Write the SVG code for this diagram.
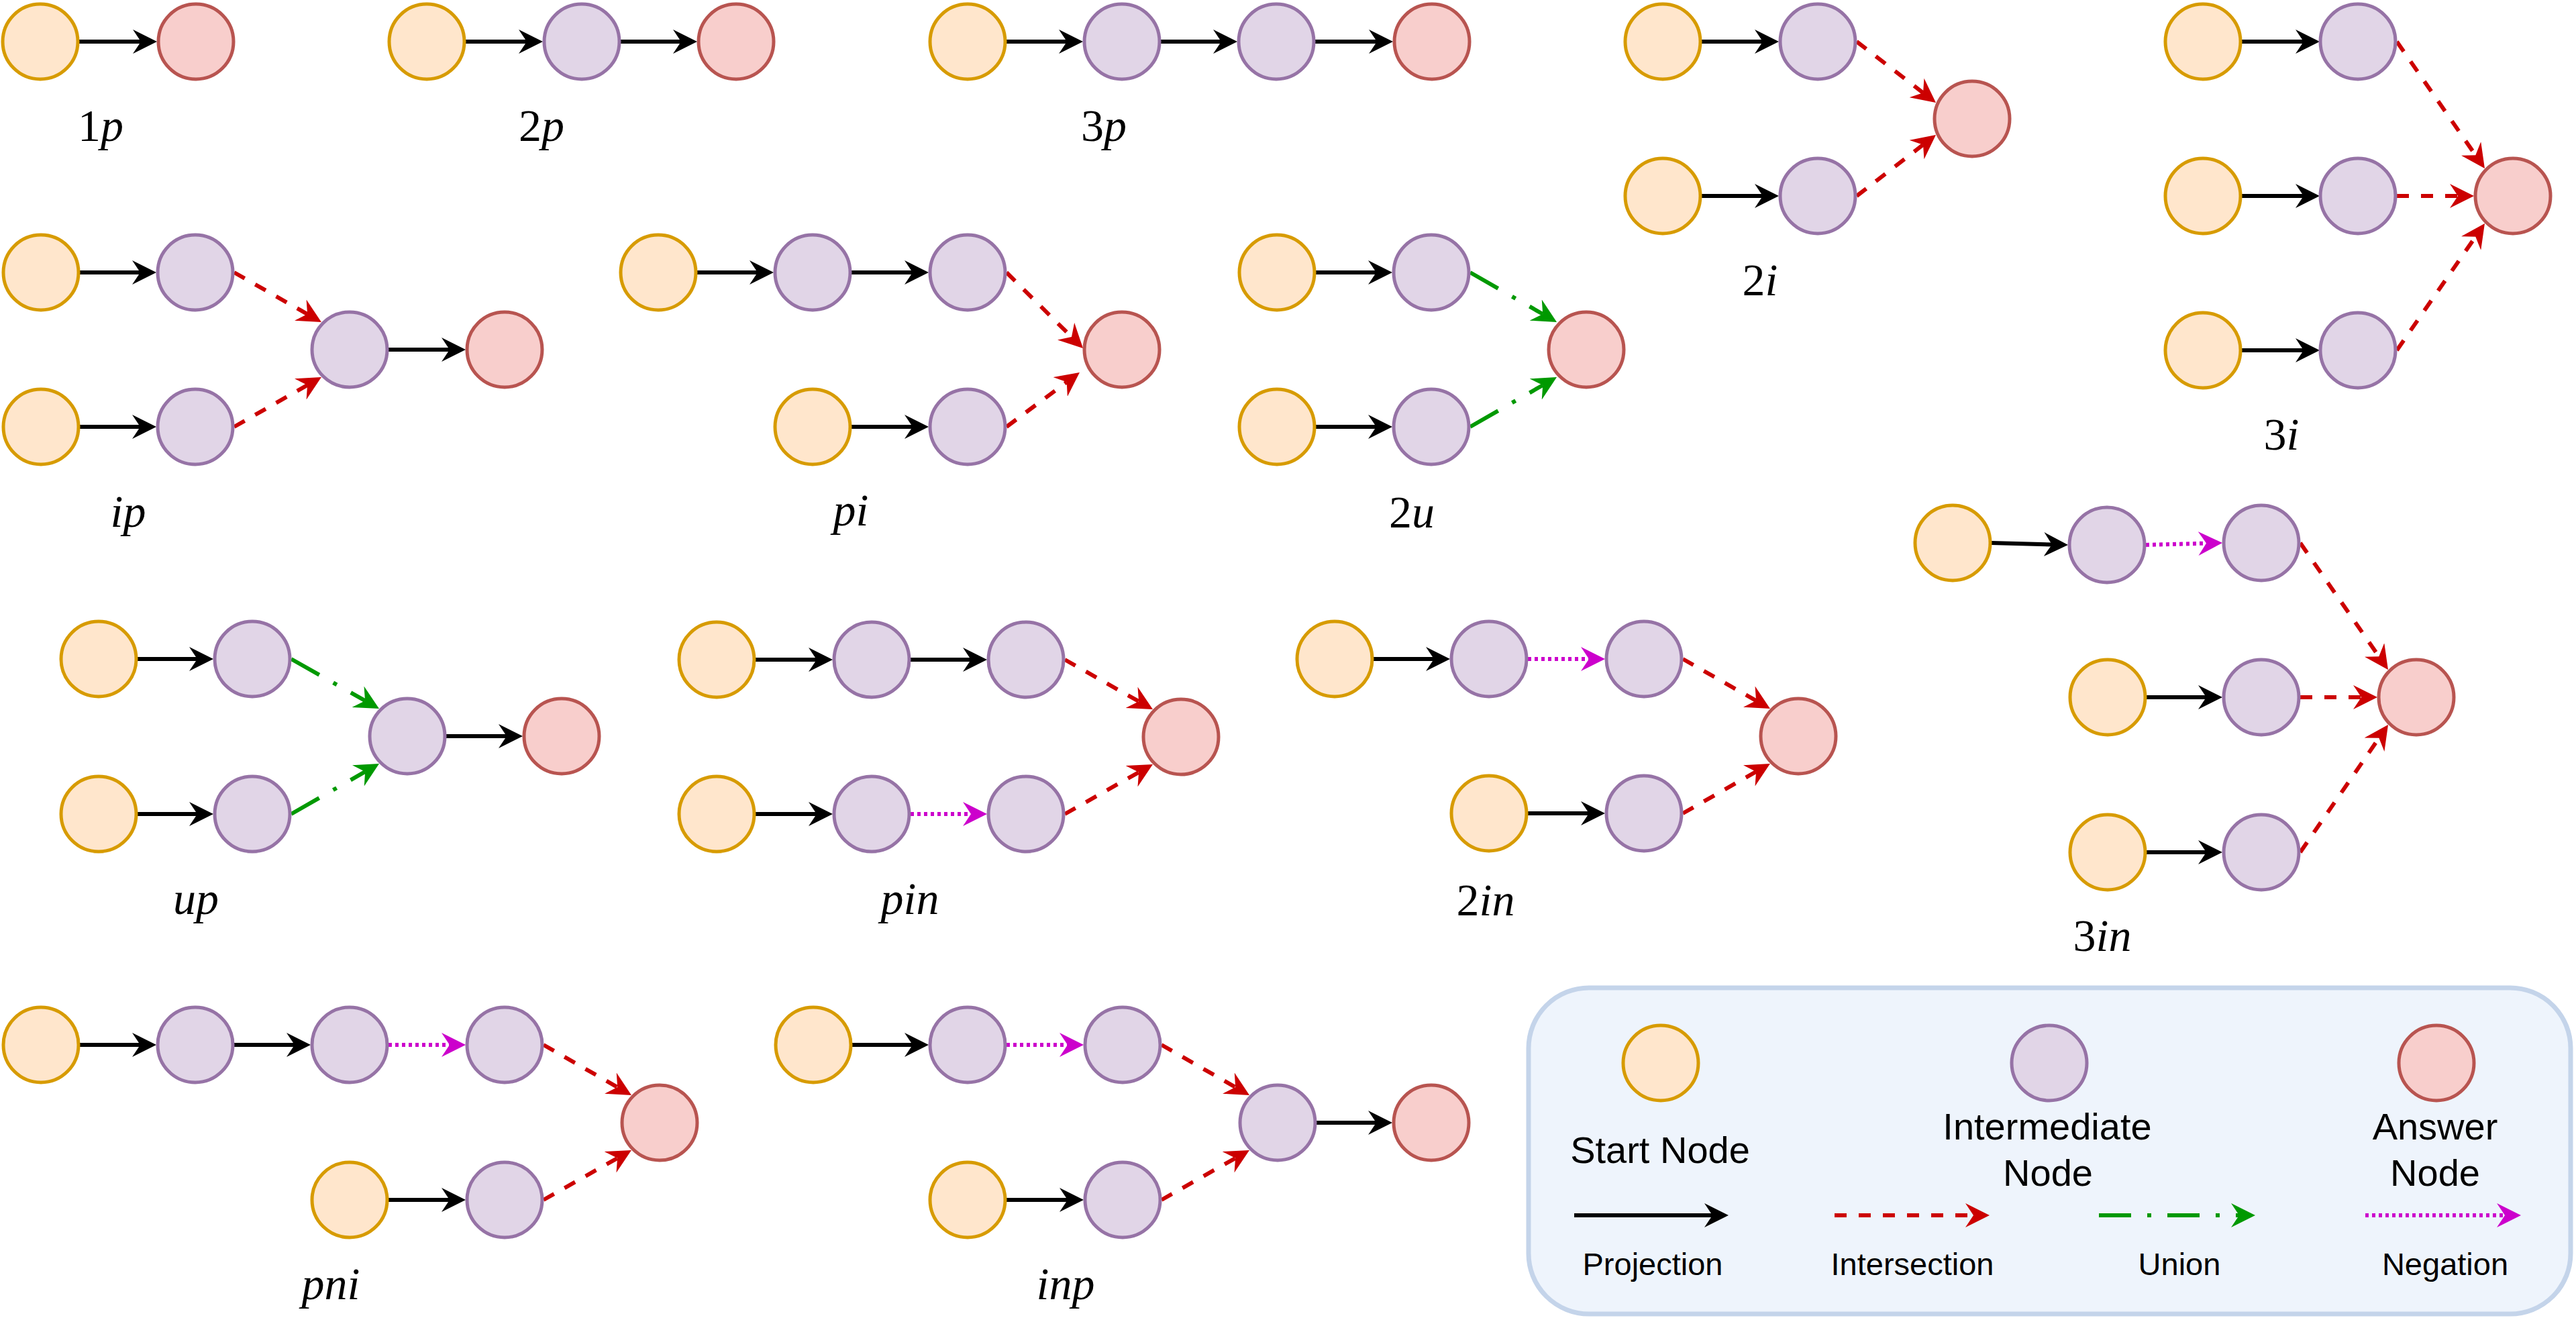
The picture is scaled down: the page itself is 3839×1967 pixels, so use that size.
<svg xmlns="http://www.w3.org/2000/svg" width="3839" height="1967" viewBox="0 0 3839 1967">
<style>
.s{fill:#ffe6cc;stroke:#d79b00;stroke-width:5}
.i{fill:#e1d5e7;stroke:#9673a6;stroke-width:5}
.a{fill:#f8cecc;stroke:#b85450;stroke-width:5}
.e{fill:none;stroke-width:6}
.pj{stroke:#000000;marker-end:url(#mk)}
.is{stroke:#cc0000;stroke-dasharray:18 18;marker-end:url(#mr)}
.un{stroke:#009900;stroke-dasharray:48 24 6 24;marker-end:url(#mg)}
.ng{stroke:#cc00cc;stroke-dasharray:5 5;marker-end:url(#mm)}
.lbl{font-family:"Liberation Serif","Times New Roman",serif;font-size:68px;fill:#000;text-anchor:middle}
.it{font-style:italic}
.lg{font-family:"Liberation Sans",Arial,sans-serif;fill:#000;text-anchor:middle}
</style>
<defs>
<marker id="mk" viewBox="0 0 36 36" markerWidth="36" markerHeight="36" refX="12" refY="18" orient="auto" markerUnits="userSpaceOnUse"><path d="M0,0 L36,18 L0,36 L12,18 Z" fill="#000000"/></marker>
<marker id="mr" viewBox="0 0 36 36" markerWidth="36" markerHeight="36" refX="12" refY="18" orient="auto" markerUnits="userSpaceOnUse"><path d="M0,0 L36,18 L0,36 L12,18 Z" fill="#cc0000"/></marker>
<marker id="mg" viewBox="0 0 36 36" markerWidth="36" markerHeight="36" refX="12" refY="18" orient="auto" markerUnits="userSpaceOnUse"><path d="M0,0 L36,18 L0,36 L12,18 Z" fill="#009900"/></marker>
<marker id="mm" viewBox="0 0 36 36" markerWidth="36" markerHeight="36" refX="12" refY="18" orient="auto" markerUnits="userSpaceOnUse"><path d="M0,0 L36,18 L0,36 L12,18 Z" fill="#cc00cc"/></marker>
</defs>
<rect width="3839" height="1967" fill="#ffffff"/>

<g id="legend-box"><rect x="2278" y="1472" width="1553" height="486" rx="90" ry="90" fill="#eef4fc" stroke="#c4d4ea" stroke-width="7"/></g>

<g id="connectors">
<!-- 1p -->
<path class="e pj" d="M118,62 L210,62"/>
<!-- 2p -->
<path class="e pj" d="M694,62 L785,62"/>
<path class="e pj" d="M925,62 L1015,62"/>
<!-- 3p -->
<path class="e pj" d="M1500,62 L1590,62"/>
<path class="e pj" d="M1730,62 L1820,62"/>
<path class="e pj" d="M1960,62 L2052,62"/>
<!-- 2i -->
<path class="e pj" d="M2536,62 L2627,62"/>
<path class="e pj" d="M2536,292 L2627,292"/>
<path class="e is" d="M2767,62 L2866,138.3"/>
<path class="e is" d="M2767,292 L2866,215.7"/>
<!-- 3i -->
<path class="e pj" d="M3341,62 L3433,62"/>
<path class="e pj" d="M3341,292 L3433,292"/>
<path class="e pj" d="M3341,522 L3433,522"/>
<path class="e is" d="M3572,62 L3689.3,231.3"/>
<path class="e is" d="M3572,292 L3663,292"/>
<path class="e is" d="M3572,522 L3689.3,352.7"/>
<!-- ip -->
<path class="e pj" d="M119,406 L209,406"/>
<path class="e pj" d="M119,636 L209,636"/>
<path class="e is" d="M349,406 L458.1,468.1"/>
<path class="e is" d="M349,636 L458.1,573.9"/>
<path class="e pj" d="M579,521 L670,521"/>
<!-- pi -->
<path class="e pj" d="M1039,406 L1129,406"/>
<path class="e pj" d="M1269,406 L1360,406"/>
<path class="e pj" d="M1269,636 L1360,636"/>
<path class="e is" d="M1500,406 L1597,502.1"/>
<path class="e is" d="M1500,636 L1589.7,569.3"/>
<!-- 2u -->
<path class="e pj" d="M1961,406 L2051,406"/>
<path class="e pj" d="M1961,636 L2051,636"/>
<path class="e un" d="M2191,406 L2299.2,468"/>
<path class="e un" d="M2191,636 L2299.2,574"/>
<!-- 3in -->
<path class="e pj" d="M2968,809 L3058,811.4"/>
<path class="e ng" d="M3198,812 L3288,809.6"/>
<path class="e pj" d="M3199,1039 L3288,1039"/>
<path class="e pj" d="M3199,1270 L3288,1270"/>
<path class="e is" d="M3428,809 L3545.3,978.3"/>
<path class="e is" d="M3428,1039 L3519,1039"/>
<path class="e is" d="M3428,1270 L3545.4,1099.8"/>
<!-- up -->
<path class="e pj" d="M205,982 L294,982"/>
<path class="e pj" d="M205,1213 L294,1213"/>
<path class="e un" d="M434,982 L544.1,1044.2"/>
<path class="e un" d="M434,1213 L544.2,1149.9"/>
<path class="e pj" d="M665,1097 L755,1097"/>
<!-- pin -->
<path class="e pj" d="M1126,983 L1217,983"/>
<path class="e pj" d="M1357,983 L1447,983"/>
<path class="e pj" d="M1126,1213 L1217,1213"/>
<path class="e ng" d="M1357,1213 L1447,1213"/>
<path class="e is" d="M1587,983 L1697.1,1045.2"/>
<path class="e is" d="M1587,1213 L1697.1,1150.8"/>
<!-- 2in -->
<path class="e pj" d="M2047,982 L2137,982"/>
<path class="e ng" d="M2277,982 L2368,982"/>
<path class="e pj" d="M2277,1212 L2368,1212"/>
<path class="e is" d="M2508,982 L2617.1,1044.1"/>
<path class="e is" d="M2508,1212 L2617.1,1149.9"/>
<!-- pni -->
<path class="e pj" d="M119,1557 L209,1557"/>
<path class="e pj" d="M349,1557 L439,1557"/>
<path class="e ng" d="M579,1557 L670,1557"/>
<path class="e pj" d="M579,1788 L670,1788"/>
<path class="e is" d="M810,1557 L920.2,1620.1"/>
<path class="e is" d="M810,1788 L920.1,1725.8"/>
<!-- inp -->
<path class="e pj" d="M1270,1557 L1360,1557"/>
<path class="e ng" d="M1500,1557 L1591,1557"/>
<path class="e pj" d="M1500,1788 L1591,1788"/>
<path class="e is" d="M1731,1557 L1841.2,1620.1"/>
<path class="e is" d="M1731,1788 L1841.1,1725.8"/>
<path class="e pj" d="M1962,1673 L2051,1673"/>
<!-- legend -->
<path class="e pj" d="M2346,1811 L2552,1811"/>
<path class="e is" d="M2734,1811 L2941,1811"/>
<path class="e un" d="M3128,1811 L3337,1811"/>
<path class="e ng" d="M3525,1811 L3733,1811"/>
</g>

<!-- 1p -->
<g id="n1p-s"><circle class="s" cx="60" cy="62" r="56"/></g>
<g id="n1p-a"><circle class="a" cx="292" cy="62" r="56"/></g>
<!-- 2p -->
<g id="n2p-s"><circle class="s" cx="636" cy="62" r="56"/></g>
<g id="n2p-i"><circle class="i" cx="867" cy="62" r="56"/></g>
<g id="n2p-a"><circle class="a" cx="1097" cy="62" r="56"/></g>
<!-- 3p -->
<g id="n3p-s"><circle class="s" cx="1442" cy="62" r="56"/></g>
<g id="n3p-i1"><circle class="i" cx="1672" cy="62" r="56"/></g>
<g id="n3p-i2"><circle class="i" cx="1902" cy="62" r="56"/></g>
<g id="n3p-a"><circle class="a" cx="2134" cy="62" r="56"/></g>
<!-- 2i -->
<g id="n2i-s1"><circle class="s" cx="2478" cy="62" r="56"/></g>
<g id="n2i-i1"><circle class="i" cx="2709" cy="62" r="56"/></g>
<g id="n2i-s2"><circle class="s" cx="2478" cy="292" r="56"/></g>
<g id="n2i-i2"><circle class="i" cx="2709" cy="292" r="56"/></g>
<g id="n2i-a"><circle class="a" cx="2939" cy="177" r="56"/></g>
<!-- 3i -->
<g id="n3i-s1"><circle class="s" cx="3283" cy="62" r="56"/></g>
<g id="n3i-i1"><circle class="i" cx="3514" cy="62" r="56"/></g>
<g id="n3i-s2"><circle class="s" cx="3283" cy="292" r="56"/></g>
<g id="n3i-i2"><circle class="i" cx="3514" cy="292" r="56"/></g>
<g id="n3i-s3"><circle class="s" cx="3283" cy="522" r="56"/></g>
<g id="n3i-i3"><circle class="i" cx="3514" cy="522" r="56"/></g>
<g id="n3i-a"><circle class="a" cx="3745" cy="292" r="56"/></g>
<!-- ip -->
<g id="nip-s1"><circle class="s" cx="61" cy="406" r="56"/></g>
<g id="nip-i1"><circle class="i" cx="291" cy="406" r="56"/></g>
<g id="nip-s2"><circle class="s" cx="61" cy="636" r="56"/></g>
<g id="nip-i2"><circle class="i" cx="291" cy="636" r="56"/></g>
<g id="nip-i3"><circle class="i" cx="521" cy="521" r="56"/></g>
<g id="nip-a"><circle class="a" cx="752" cy="521" r="56"/></g>
<!-- pi -->
<g id="npi-s1"><circle class="s" cx="981" cy="406" r="56"/></g>
<g id="npi-i1"><circle class="i" cx="1211" cy="406" r="56"/></g>
<g id="npi-i2"><circle class="i" cx="1442" cy="406" r="56"/></g>
<g id="npi-s2"><circle class="s" cx="1211" cy="636" r="56"/></g>
<g id="npi-i3"><circle class="i" cx="1442" cy="636" r="56"/></g>
<g id="npi-a"><circle class="a" cx="1672" cy="521" r="56"/></g>
<!-- 2u -->
<g id="n2u-s1"><circle class="s" cx="1903" cy="406" r="56"/></g>
<g id="n2u-i1"><circle class="i" cx="2133" cy="406" r="56"/></g>
<g id="n2u-s2"><circle class="s" cx="1903" cy="636" r="56"/></g>
<g id="n2u-i2"><circle class="i" cx="2133" cy="636" r="56"/></g>
<g id="n2u-a"><circle class="a" cx="2364" cy="521" r="56"/></g>
<!-- 3in -->
<g id="n3in-s1"><circle class="s" cx="2910" cy="809" r="56"/></g>
<g id="n3in-i1"><circle class="i" cx="3140" cy="812" r="56"/></g>
<g id="n3in-i2"><circle class="i" cx="3370" cy="809" r="56"/></g>
<g id="n3in-s2"><circle class="s" cx="3141" cy="1039" r="56"/></g>
<g id="n3in-i3"><circle class="i" cx="3370" cy="1039" r="56"/></g>
<g id="n3in-s3"><circle class="s" cx="3141" cy="1270" r="56"/></g>
<g id="n3in-i4"><circle class="i" cx="3370" cy="1270" r="56"/></g>
<g id="n3in-a"><circle class="a" cx="3601" cy="1039" r="56"/></g>
<!-- up -->
<g id="nup-s1"><circle class="s" cx="147" cy="982" r="56"/></g>
<g id="nup-i1"><circle class="i" cx="376" cy="982" r="56"/></g>
<g id="nup-s2"><circle class="s" cx="147" cy="1213" r="56"/></g>
<g id="nup-i2"><circle class="i" cx="376" cy="1213" r="56"/></g>
<g id="nup-i3"><circle class="i" cx="607" cy="1097" r="56"/></g>
<g id="nup-a"><circle class="a" cx="837" cy="1097" r="56"/></g>
<!-- pin -->
<g id="npin-s1"><circle class="s" cx="1068" cy="983" r="56"/></g>
<g id="npin-i1"><circle class="i" cx="1299" cy="983" r="56"/></g>
<g id="npin-i2"><circle class="i" cx="1529" cy="983" r="56"/></g>
<g id="npin-s2"><circle class="s" cx="1068" cy="1213" r="56"/></g>
<g id="npin-i3"><circle class="i" cx="1299" cy="1213" r="56"/></g>
<g id="npin-i4"><circle class="i" cx="1529" cy="1213" r="56"/></g>
<g id="npin-a"><circle class="a" cx="1760" cy="1098" r="56"/></g>
<!-- 2in -->
<g id="n2in-s1"><circle class="s" cx="1989" cy="982" r="56"/></g>
<g id="n2in-i1"><circle class="i" cx="2219" cy="982" r="56"/></g>
<g id="n2in-i2"><circle class="i" cx="2450" cy="982" r="56"/></g>
<g id="n2in-s2"><circle class="s" cx="2219" cy="1212" r="56"/></g>
<g id="n2in-i3"><circle class="i" cx="2450" cy="1212" r="56"/></g>
<g id="n2in-a"><circle class="a" cx="2680" cy="1097" r="56"/></g>
<!-- pni -->
<g id="npni-s1"><circle class="s" cx="61" cy="1557" r="56"/></g>
<g id="npni-i1"><circle class="i" cx="291" cy="1557" r="56"/></g>
<g id="npni-i2"><circle class="i" cx="521" cy="1557" r="56"/></g>
<g id="npni-i3"><circle class="i" cx="752" cy="1557" r="56"/></g>
<g id="npni-s2"><circle class="s" cx="521" cy="1788" r="56"/></g>
<g id="npni-i4"><circle class="i" cx="752" cy="1788" r="56"/></g>
<g id="npni-a"><circle class="a" cx="983" cy="1673" r="56"/></g>
<!-- inp -->
<g id="ninp-s1"><circle class="s" cx="1212" cy="1557" r="56"/></g>
<g id="ninp-i1"><circle class="i" cx="1442" cy="1557" r="56"/></g>
<g id="ninp-i2"><circle class="i" cx="1673" cy="1557" r="56"/></g>
<g id="ninp-s2"><circle class="s" cx="1442" cy="1788" r="56"/></g>
<g id="ninp-i3"><circle class="i" cx="1673" cy="1788" r="56"/></g>
<g id="ninp-i4"><circle class="i" cx="1904" cy="1673" r="56"/></g>
<g id="ninp-a"><circle class="a" cx="2133" cy="1673" r="56"/></g>
<!-- legend nodes -->
<g id="legend-start"><circle class="s" cx="2475" cy="1584" r="56"/><text class="lg" x="2474" y="1733" font-size="56">Start Node</text></g>
<g id="legend-inter"><circle class="i" cx="3054" cy="1584" r="56"/><text class="lg" x="3051" y="1698" font-size="56">Intermediate</text><text class="lg" x="3052" y="1767" font-size="56">Node</text></g>
<g id="legend-answer"><circle class="a" cx="3631" cy="1584" r="56"/><text class="lg" x="3629" y="1698" font-size="56">Answer</text><text class="lg" x="3629" y="1767" font-size="56">Node</text></g>
<g id="legend-labels">
<text class="lg" x="2463" y="1900" font-size="47">Projection</text>
<text class="lg" x="2850" y="1900" font-size="47">Intersection</text>
<text class="lg" x="3248" y="1900" font-size="47">Union</text>
<text class="lg" x="3644" y="1900" font-size="47">Negation</text>
</g>

<g id="labels">
<text class="lbl" x="150" y="210">1<tspan class="it">p</tspan></text>
<text class="lbl" x="807" y="210">2<tspan class="it">p</tspan></text>
<text class="lbl" x="1645" y="210">3<tspan class="it">p</tspan></text>
<text class="lbl" x="2623" y="440">2<tspan class="it">i</tspan></text>
<text class="lbl" x="3400" y="670">3<tspan class="it">i</tspan></text>
<text class="lbl it" x="191" y="785">ip</text>
<text class="lbl it" x="1268" y="783">pi</text>
<text class="lbl" x="2104" y="786">2<tspan class="it">u</tspan></text>
<text class="lbl" x="3133" y="1417">3<tspan class="it">in</tspan></text>
<text class="lbl it" x="292" y="1362">up</text>
<text class="lbl it" x="1356" y="1362">pin</text>
<text class="lbl" x="2214" y="1364">2<tspan class="it">in</tspan></text>
<text class="lbl it" x="493" y="1936">pni</text>
<text class="lbl it" x="1588" y="1936">inp</text>
</g>
</svg>
